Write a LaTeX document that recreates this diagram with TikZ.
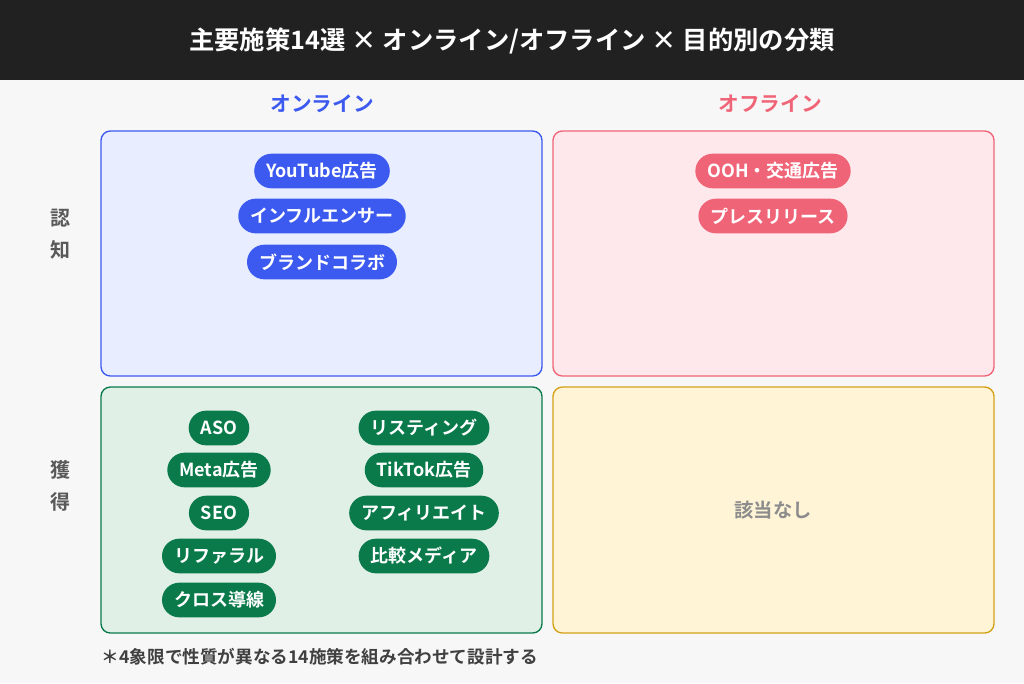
\documentclass[tikz,border=0pt]{standalone}
\usepackage{fontspec}
\setmainfont{Noto Sans CJK JP}[BoldFont={Noto Sans CJK JP Bold}]
\usetikzlibrary{positioning}
\definecolor{onblue}{RGB}{61,90,240}
\definecolor{onbluebg}{RGB}{232,237,255}
\definecolor{offpink}{RGB}{240,100,120}
\definecolor{offpinkbg}{RGB}{255,232,236}
\definecolor{acqgreen}{RGB}{10,122,75}
\definecolor{acqgreenbg}{RGB}{224,240,231}
\definecolor{noneyel}{RGB}{212,160,23}
\definecolor{noneyelbg}{RGB}{255,245,214}
\tikzset{every picture/.style={line width=0.75pt},
  pill/.style={rounded corners=13pt, minimum height=26pt, inner xsep=9pt, text=white, font=\bfseries\fontsize{13.5}{15}\selectfont},
  quad/.style={rounded corners=7pt, line width=1pt}}
\begin{document}
\begin{tikzpicture}[x=0.75pt,y=0.75pt,yscale=-1,xscale=1]
\useasboundingbox (0,0) rectangle (1024,683);
\fill[black!3] (0,0) rectangle (1024,683);
%Title bar
\fill[black!87] (0,0) rectangle (1024,80);
\node[text=white, font=\bfseries\fontsize{19}{22}\selectfont] (title) at (512,41) {主要施策14選 × オンライン/オフライン × 目的別の分類};
%Column and row labels
\node[text=onblue, font=\bfseries\fontsize{15.5}{18}\selectfont] (colon) at (322,104) {オンライン};
\node[text=offpink, font=\bfseries\fontsize{15.5}{18}\selectfont] (coloff) at (770,104) {オフライン};
\node[text=black!65, font=\bfseries\fontsize{15}{24}\selectfont, align=center] (rowaw) at (60,234) {認\\知};
\node[text=black!65, font=\bfseries\fontsize{15}{24}\selectfont, align=center] (rowacq) at (60,486) {獲\\得};
%Quadrants
\draw[quad, draw=onblue, fill=onbluebg] (101,131) rectangle (542,376);
\draw[quad, draw=offpink, fill=offpinkbg] (553,131) rectangle (994,376);
\draw[quad, draw=acqgreen, fill=acqgreenbg] (101,387) rectangle (542,633);
\draw[quad, draw=noneyel, fill=noneyelbg] (553,387) rectangle (994,633);
%Pills online awareness
\node[pill, fill=onblue] (yt) at (322,171) {YouTube広告};
\node[pill, fill=onblue] (inf) at (322,216) {インフルエンサー};
\node[pill, fill=onblue] (brand) at (322,262) {ブランドコラボ};
%Pills offline awareness
\node[pill, fill=offpink] (ooh) at (773,171) {OOH・交通広告};
\node[pill, fill=offpink] (press) at (773,216) {プレスリリース};
%Pills online acquisition
\node[pill, fill=acqgreen] (aso) at (219,428) {ASO};
\node[pill, fill=acqgreen] (meta) at (219,470) {Meta広告};
\node[pill, fill=acqgreen] (seo) at (219,513) {SEO};
\node[pill, fill=acqgreen] (ref) at (219,556) {リファラル};
\node[pill, fill=acqgreen] (cross) at (219,600) {クロス導線};
\node[pill, fill=acqgreen] (list) at (424,428) {リスティング};
\node[pill, fill=acqgreen] (tiktok) at (424,470) {TikTok広告};
\node[pill, fill=acqgreen] (aff) at (424,513) {アフィリエイト};
\node[pill, fill=acqgreen] (comp) at (424,556) {比較メディア};
%Empty quadrant
\node[text=black!45, font=\bfseries\fontsize{14.5}{17}\selectfont] (none) at (773,510) {該当なし};
%Footnote
\node[anchor=west, text=black!75, font=\bfseries\fontsize{13.2}{15}\selectfont] (note) at (97,657) {＊4象限で性質が異なる14施策を組み合わせて設計する};
\end{tikzpicture}
\end{document}
